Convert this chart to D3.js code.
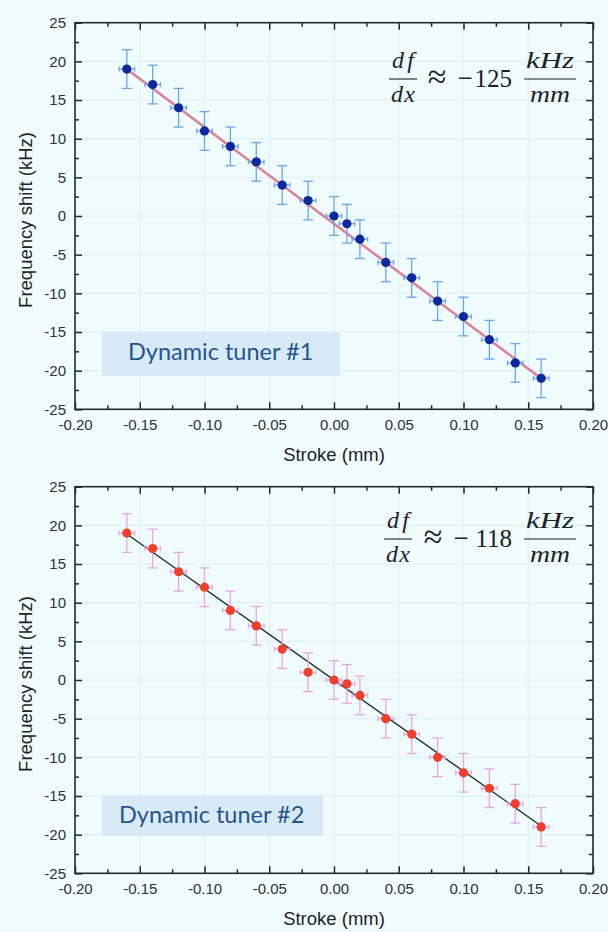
<!DOCTYPE html>
<html>
<head>
<meta charset="utf-8">
<script src="https://cdn.jsdelivr.net/npm/d3@7"></script>
<style>
  body { margin: 0; background: #effbfd; }
  svg { display: block; }
</style>
</head>
<body>
<svg id="chart" width="608" height="932"></svg>
<script>
// stroke positions (mm), same for both tuners
const stroke = [-0.16, -0.14, -0.12, -0.10, -0.08, -0.06, -0.04, -0.02, 0, 0.01, 0.02, 0.04, 0.06, 0.08, 0.10, 0.12, 0.14, 0.16];
// frequency shift (kHz)
const shift1 = [19, 17, 14, 11, 9, 7, 4, 2, 0, -1, -3, -6, -8, -11, -13, -16, -19, -21];
const shift2 = [19, 17, 14, 12, 9, 7, 4, 1, 0, -0.5, -2, -5, -7, -10, -12, -14, -16, -19];
const yErr = 2.5;
const xErr = 0.006;
// linear fits
const fit1 = { slope: -125, intercept: -1 };
const fit2 = { slope: -118, intercept: 0 };
const xTicks = [-0.20, -0.15, -0.10, -0.05, 0, 0.05, 0.10, 0.15, 0.20];
const yTicks = [-25, -20, -15, -10, -5, 0, 5, 10, 15, 20, 25];
const labels = ["Dynamic tuner #1", "Dynamic tuner #2"];
const slopesText = ["125", "118"];

const svg = d3.select("#chart");
svg.append("rect").attr("width", 608).attr("height", 932).attr("fill", "#effbfd");

function drawPanel(o) {
  const x = d3.scaleLinear().domain([-0.2, 0.2]).range([75, 593]);
  const y = d3.scaleLinear().domain([-25, 25]).range([o.bottom, o.top]);
  const g = svg.append("g");

  // faint grid
  g.append("g").selectAll("line").data(xTicks.slice(1, -1)).join("line")
    .attr("x1", d => x(d)).attr("x2", d => x(d))
    .attr("y1", o.top).attr("y2", o.bottom)
    .attr("stroke", "#dcf0f4").attr("stroke-width", 1);
  g.append("g").selectAll("line").data(yTicks.slice(1, -1)).join("line")
    .attr("y1", d => y(d)).attr("y2", d => y(d))
    .attr("x1", 75).attr("x2", 593)
    .attr("stroke", "#dcf0f4").attr("stroke-width", 1);

  const xMinor = d3.range(-0.175, 0.2, 0.05);
  const yMinor = d3.range(-22.5, 25, 5);

  const axes = [
    [d3.axisBottom(x).tickValues(xTicks).tickFormat(d => d.toFixed(2)), `translate(0,${o.bottom})`, true, 10],
    [d3.axisBottom(x).tickValues(xMinor).tickFormat(""), `translate(0,${o.bottom})`, false, 0],
    [d3.axisTop(x).tickValues(xTicks).tickFormat(""), `translate(0,${o.top})`, true, 0],
    [d3.axisTop(x).tickValues(xMinor).tickFormat(""), `translate(0,${o.top})`, false, 0],
    [d3.axisLeft(y).tickValues(yTicks).tickFormat(d => String(d)), `translate(75,0)`, true, 9],
    [d3.axisLeft(y).tickValues(yMinor).tickFormat(""), `translate(75,0)`, false, 0],
    [d3.axisRight(y).tickValues(yTicks).tickFormat(""), `translate(593,0)`, true, 0],
    [d3.axisRight(y).tickValues(yMinor).tickFormat(""), `translate(593,0)`, false, 0]
  ];
  axes.forEach(([ax, tr, major, pad]) => {
    ax.tickSize(major ? -7 : -4).tickPadding(pad);
    const a = g.append("g").attr("transform", tr).call(ax);
    a.select(".domain").remove();
    a.selectAll(".tick line").attr("stroke", "#1e2a30").attr("stroke-width", 1.5);
    a.selectAll(".tick text")
      .attr("fill", "#2a3338")
      .attr("font-family", "Liberation Sans, Arial, sans-serif")
      .attr("font-size", 15);
  });

  // frame
  g.append("rect")
    .attr("x", 75).attr("y", o.top)
    .attr("width", 518).attr("height", o.bottom - o.top)
    .attr("fill", "none").attr("stroke", "#1e2a30").attr("stroke-width", 1.6);

  // axis titles
  g.append("text")
    .attr("x", 334).attr("y", o.bottom + 52)
    .attr("text-anchor", "middle")
    .attr("font-family", "Liberation Sans, Arial, sans-serif")
    .attr("font-size", 18.5).attr("fill", "#1c2428")
    .text("Stroke (mm)");
  g.append("text")
    .attr("transform", `translate(32,${(o.top + o.bottom) / 2 + 4}) rotate(-90)`)
    .attr("text-anchor", "middle")
    .attr("font-family", "Liberation Sans, Arial, sans-serif")
    .attr("font-size", 18.5).attr("fill", "#1c2428")
    .text("Frequency shift (kHz)");

  // legend box
  g.append("rect")
    .attr("x", 102).attr("y", o.boxY)
    .attr("width", o.boxW).attr("height", o.boxH)
    .attr("fill", "#d8eaf6");
  g.append("text")
    .attr("x", o.textX).attr("y", o.boxY + 28)
    .attr("font-family", "Lato, Open Sans, sans-serif")
    .attr("font-size", 23.5).attr("fill", "#25558e")
    .text(o.label);

  // fit line
  const pts = d3.extent(stroke);
  g.append("path")
    .datum(pts)
    .attr("d", d3.line().x(d => x(d)).y(d => y(o.fit.intercept + o.fit.slope * d)))
    .attr("stroke", o.lineColor).attr("stroke-width", o.lineWidth)
    .attr("stroke-opacity", o.lineOpacity).attr("fill", "none");

  // error bars
  const data = stroke.map((s, i) => ({ x: s, y: o.values[i] }));
  const eb = g.append("g").attr("stroke", o.errColor).attr("stroke-width", 1.3);
  data.forEach(d => {
    eb.append("line").attr("x1", x(d.x)).attr("x2", x(d.x))
      .attr("y1", y(d.y - yErr)).attr("y2", y(d.y + yErr));
    eb.append("line").attr("x1", x(d.x) - 5).attr("x2", x(d.x) + 5)
      .attr("y1", y(d.y - yErr)).attr("y2", y(d.y - yErr));
    eb.append("line").attr("x1", x(d.x) - 5).attr("x2", x(d.x) + 5)
      .attr("y1", y(d.y + yErr)).attr("y2", y(d.y + yErr));
    eb.append("line").attr("x1", x(d.x - xErr)).attr("x2", x(d.x + xErr))
      .attr("y1", y(d.y)).attr("y2", y(d.y));
    eb.append("line").attr("x1", x(d.x - xErr)).attr("x2", x(d.x - xErr))
      .attr("y1", y(d.y) - 2.5).attr("y2", y(d.y) + 2.5);
    eb.append("line").attr("x1", x(d.x + xErr)).attr("x2", x(d.x + xErr))
      .attr("y1", y(d.y) - 2.5).attr("y2", y(d.y) + 2.5);
  });

  // points
  g.append("g").selectAll("circle").data(data).join("circle")
    .attr("cx", d => x(d.x)).attr("cy", d => y(d.y))
    .attr("r", 4.6).attr("fill", o.pointColor);

  // slope formula
  const f = g.append("g")
    .attr("font-family", "Liberation Serif, Times New Roman, serif")
    .attr("font-size", 24).attr("fill", "#1a2226");
  const my = o.top + o.barDy;
  const fx = o.fracX;
  f.append("text").attr("x", fx).attr("y", my - 11).attr("text-anchor", "middle")
    .attr("font-style", "italic").attr("textLength", 22).attr("lengthAdjust", "spacing").text("df");
  f.append("line").attr("x1", fx - 14).attr("x2", fx + 14).attr("y1", my).attr("y2", my)
    .attr("stroke", "#1a2226").attr("stroke-width", 1.1);
  f.append("text").attr("x", fx).attr("y", my + 23).attr("text-anchor", "middle")
    .attr("font-style", "italic").attr("textLength", 24).attr("lengthAdjust", "spacing").text("dx");
  f.append("text").attr("x", o.approxX).attr("y", my + 9).attr("text-anchor", "middle")
    .attr("font-size", 34).text("≈");
  f.append("text").attr("x", o.minusX).attr("y", my + 8).attr("text-anchor", "middle")
    .attr("font-size", 27).text("−");
  f.append("text").attr("x", 512).attr("y", my + 8).attr("text-anchor", "end")
    .attr("font-size", 25).text(o.slopeText);
  f.append("text").attr("x", 550).attr("y", my - 11).attr("text-anchor", "middle")
    .attr("font-style", "italic").attr("textLength", 48).attr("lengthAdjust", "spacingAndGlyphs").text("kHz");
  f.append("line").attr("x1", 524).attr("x2", 576).attr("y1", my).attr("y2", my)
    .attr("stroke", "#1a2226").attr("stroke-width", 1.1);
  f.append("text").attr("x", 550).attr("y", my + 23).attr("text-anchor", "middle")
    .attr("font-style", "italic").attr("textLength", 40).attr("lengthAdjust", "spacingAndGlyphs").text("mm");
}

drawPanel({
  top: 22.7, bottom: 409.3, values: shift1, fit: fit1,
  lineColor: "#d0607a", lineWidth: 2.6, lineOpacity: 0.75,
  errColor: "#6aa6ec", pointColor: "#0c2a9e",
  boxY: 332, boxW: 238, boxH: 44, textX: 128, label: labels[0], slopeText: slopesText[0],
  barDy: 56.3, fracX: 403, approxX: 437, minusX: 465
});
drawPanel({
  top: 486.7, bottom: 873.3, values: shift2, fit: fit2,
  lineColor: "#24302e", lineWidth: 1.4, lineOpacity: 1,
  errColor: "#e6a6e6", pointColor: "#f0402c",
  boxY: 795, boxW: 221, boxH: 41, textX: 119, label: labels[1], slopeText: slopesText[1],
  barDy: 52.3, fracX: 398, approxX: 433, minusX: 461
});
</script>
</body>
</html>
